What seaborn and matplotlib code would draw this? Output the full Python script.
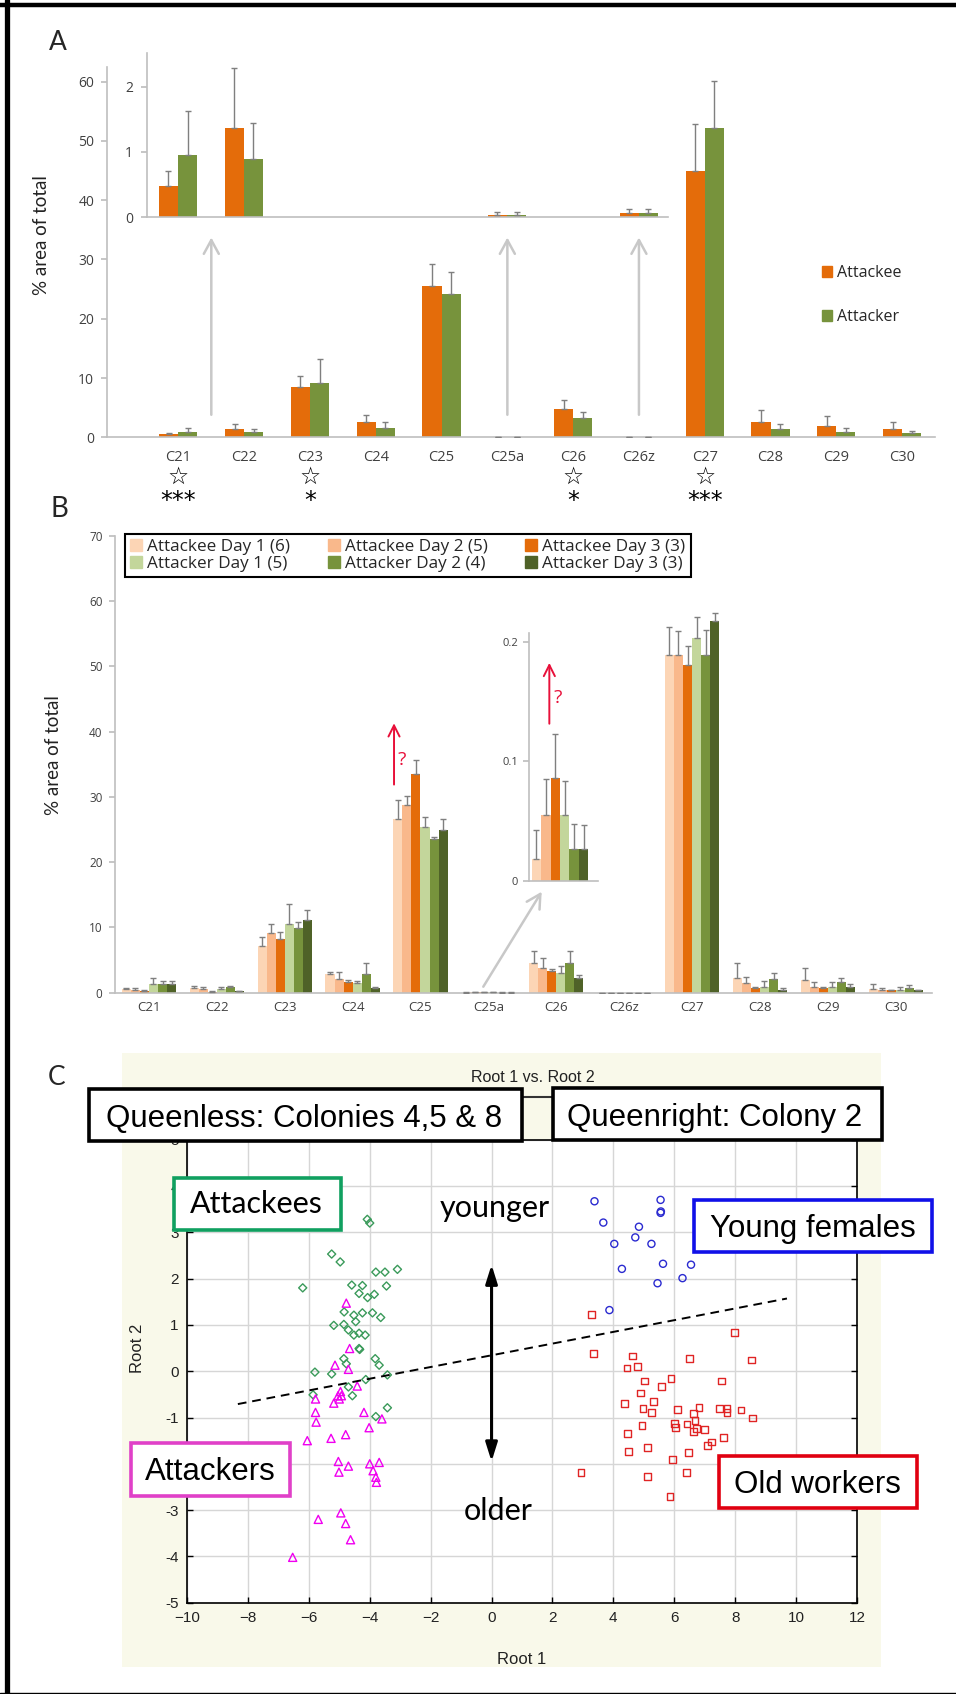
import numpy as np
import pandas as pd
import matplotlib
matplotlib.use("Agg")
import matplotlib.pyplot as plt
import matplotlib.transforms as mtransforms
from matplotlib.patches import Rectangle, Patch
from matplotlib.lines import Line2D
import seaborn as sns

# ---------------------------------------------------------------- data
compounds = ['C21', 'C22', 'C23', 'C24', 'C25', 'C25a', 'C26', 'C26z', 'C27', 'C28', 'C29', 'C30']

# Panel A : mean % area and SE (upper bar only)
attackee_mean = [0.48, 1.36, 8.4, 2.6, 25.6, 0.03, 4.8, 0.07, 44.9, 2.6, 1.95, 1.4]
attackee_se = [0.23, 0.93, 1.9, 1.2, 3.6, 0.05, 1.5, 0.05, 8.0, 2.0, 1.65, 1.2]
attacker_mean = [0.95, 0.89, 9.2, 1.6, 24.1, 0.03, 3.2, 0.07, 52.2, 1.4, 0.95, 0.67]
attacker_se = [0.67, 0.55, 4.0, 1.0, 3.7, 0.05, 1.0, 0.05, 7.9, 0.8, 0.55, 0.39]
inset_a_compounds = ['C21', 'C22', 'C25a', 'C26z']
sig_compounds = ['C21', 'C23', 'C26', 'C27']
sig_labels = ['***', '*', '*', '***']

# Panel B : by day
groups_b = ['Attackee Day 1 (6)', 'Attackee Day 2 (5)', 'Attackee Day 3 (3)',
            'Attacker Day 1 (5)', 'Attacker Day 2 (4)', 'Attacker Day 3 (3)']
ee_d1_mean = [0.5, 0.7, 7.1, 2.9, 26.6, 0.018, 4.6, 0.01, 51.8, 2.2, 1.95, 0.6]
ee_d1_se = [0.2, 0.3, 1.4, 0.3, 3.0, 0.025, 1.8, 0.0, 4.3, 2.3, 1.85, 0.7]
ee_d2_mean = [0.45, 0.5, 9.1, 2.05, 28.8, 0.055, 3.85, 0.01, 51.8, 1.44, 0.9, 0.45]
ee_d2_se = [0.2, 0.45, 1.4, 1.15, 1.4, 0.03, 1.45, 0.0, 3.7, 1.0, 0.7, 0.25]
ee_d3_mean = [0.25, 0.1, 8.2, 1.7, 33.5, 0.086, 3.33, 0.01, 50.3, 0.77, 0.75, 0.35]
ee_d3_se = [0.1, 0.1, 1.1, 0.25, 2.2, 0.037, 0.3, 0.0, 2.9, 0.15, 0.15, 0.1]
er_d1_mean = [1.3, 0.5, 10.5, 1.5, 25.4, 0.055, 3.07, 0.01, 54.3, 0.92, 0.85, 0.35]
er_d1_se = [0.9, 0.3, 3.1, 0.35, 1.6, 0.029, 0.95, 0.0, 3.3, 0.9, 0.75, 0.55]
er_d2_mean = [1.3, 0.8, 9.9, 2.8, 23.6, 0.027, 4.5, 0.01, 51.8, 2.1, 1.7, 0.7]
er_d2_se = [0.5, 0.3, 1.0, 1.7, 0.3, 0.021, 1.9, 0.0, 3.8, 0.9, 0.5, 0.5]
er_d3_mean = [1.3, 0.25, 11.15, 0.72, 25.0, 0.027, 2.2, 0.01, 56.9, 0.4, 0.85, 0.35]
er_d3_se = [0.5, 0.05, 1.55, 0.1, 1.6, 0.02, 0.5, 0.0, 1.3, 0.37, 0.45, 0.1]
inset_b_compound = 'C25a'

# Panel C : discriminant scores (Root 1, Root 2)
attackees_x = [-4.08, -4.0, -5.25, -4.97, -6.2, -3.8, -3.5, -3.09, -4.59, -4.24, -4.35, -4.07, -3.85, -3.45,
               -4.84, -4.52, -4.24, -3.91, -3.64, -5.18, -4.85, -4.70, -4.46, -4.52, -4.35, -4.15, -4.35,
               -4.33, -4.85, -4.77, -3.82, -3.69, -5.8, -5.25, -4.13, -3.42, -4.70, -4.57, -5.86, -3.42, -3.80]
attackees_y = [3.28, 3.2, 2.53, 2.36, 1.8, 2.14, 2.14, 2.2, 1.86, 1.85, 1.68, 1.59, 1.66, 1.84,
               1.28, 1.21, 1.26, 1.26, 1.16, 0.99, 1.01, 0.89, 1.07, 0.78, 0.82, 0.78, 0.49,
               0.47, 0.27, 0.16, 0.27, 0.13, -0.02, -0.06, -0.18, -0.08, -0.34, -0.53, -0.51, -0.79, -0.98]
attackers_x = [-4.77, -4.66, -5.14, -4.70, -4.41, -4.96, -5.04, -4.93, -5.0, -5.18, -5.78, -5.78, -5.76, -4.19,
               -4.02, -3.6, -6.05, -5.27, -4.79, -5.03, -5.01, -4.70, -4.0, -3.69, -3.89, -3.80, -3.78,
               -5.69, -4.95, -4.79, -4.63, -6.53]
attackers_y = [1.47, 0.49, 0.13, 0.04, -0.32, -0.44, -0.53, -0.53, -0.60, -0.69, -0.6, -0.89, -1.1, -0.89,
               -1.22, -1.03, -1.5, -1.45, -1.37, -1.95, -2.18, -2.05, -2.0, -1.97, -2.15, -2.29, -2.4,
               -3.2, -3.06, -3.29, -3.64, -4.02]
young_x = [3.38, 5.55, 5.55, 5.56, 3.67, 4.84, 4.72, 4.03, 5.25, 4.28, 5.63, 6.55, 6.27, 5.45, 3.87]
young_y = [3.67, 3.70, 3.42, 3.45, 3.21, 3.12, 2.89, 2.75, 2.75, 2.21, 2.32, 2.30, 2.01, 1.90, 1.32]
old_x = [3.27, 7.98, 3.35, 4.64, 6.49, 8.53, 4.45, 4.79, 5.03, 5.89, 5.59, 7.54, 4.89, 4.37, 5.32, 4.97,
         5.25, 6.11, 6.81, 7.48, 7.73, 7.73, 8.19, 8.58, 6.63, 6.68, 6.02, 6.05, 6.42, 6.73, 6.64, 6.99,
         4.94, 4.46, 7.23, 7.10, 7.62, 5.11, 4.49, 6.46, 5.94, 2.94, 6.40, 5.11, 5.86]
old_y = [1.22, 0.84, 0.39, 0.33, 0.28, 0.24, 0.07, 0.10, -0.21, -0.16, -0.33, -0.21, -0.47, -0.70, -0.66, -0.81,
         -0.90, -0.83, -0.79, -0.81, -0.81, -0.90, -0.84, -1.01, -0.92, -1.06, -1.13, -1.21, -1.14, -1.23, -1.31,
         -1.26, -1.18, -1.35, -1.53, -1.60, -1.44, -1.64, -1.73, -1.75, -1.91, -2.18, -2.18, -2.27, -2.70]
boundary_x = [-8.33, 9.70]
boundary_y = [-0.71, 1.57]
age_arrow_y = [-1.95, 2.3]

# ---------------------------------------------------------------- style
sns.set_theme(style="white")
plt.rcParams['font.family'] = ['Open Sans', 'DejaVu Sans']
ARIAL = ['Liberation Sans', 'DejaVu Sans']
CALIBRI = ['Lato', 'DejaVu Sans']

ORANGE = '#e46c0a'
GREEN = '#77933c'
pal_b = dict(zip(groups_b, ['#fcd5b5', '#f9b88b', '#e46c0a', '#c3d69b', '#77933c', '#4f6228']))
AXGRAY = '#bfbfbf'
ERRGRAY = '#7f7f7f'
LBL = '#404040'

W, H = 956, 1694
fig = plt.figure(figsize=(W / 100, H / 100), dpi=100)
fig.patch.set_facecolor('white')


def fx(px):
    return px / W


def fy(py):
    return 1 - py / H


def add_errorbars(ax, containers, levels, lookup, x_to_cat):
    for cont, lvl in zip(containers, levels):
        xs, ys, es = [], [], []
        for bar in cont:
            cx = bar.get_x() + bar.get_width() / 2
            xs.append(cx)
            ys.append(bar.get_height())
            es.append(lookup[lvl][x_to_cat(cx)])
        if xs:
            ax.errorbar(xs, ys, yerr=[np.zeros(len(es)), es], fmt='none', ecolor=ERRGRAY,
                        elinewidth=1.0, capsize=2, capthick=1.0, zorder=3)


# ---------------------------------------------------------------- Panel A
dfA = pd.DataFrame({
    'compound': compounds * 2,
    'group': ['Attackee'] * len(compounds) + ['Attacker'] * len(compounds),
    'value': attackee_mean + attacker_mean,
})
se_A = {'Attackee': dict(zip(compounds, attackee_se)), 'Attacker': dict(zip(compounds, attacker_se))}
pal_A = {'Attackee': ORANGE, 'Attacker': GREEN}

ax_a = fig.add_axes([fx(106.7), fy(437.3), 828.3 / W, (437.3 - 66.7) / H])
sns.barplot(data=dfA, x='compound', y='value', hue='group', order=compounds,
            hue_order=['Attackee', 'Attacker'], palette=pal_A, width=0.58, errorbar=None,
            legend=False, saturation=1, ax=ax_a, linewidth=0)
conts = list(ax_a.containers)
add_errorbars(ax_a, conts, ['Attackee', 'Attacker'], se_A, lambda c: compounds[int(round(c))])
ax_a.set_xlim(-1.09, 11.5)
ax_a.set_ylim(0, 62.5)
ax_a.set_yticks(range(0, 61, 10))
ax_a.set_xlabel('')
ax_a.set_ylabel('% area of total', fontsize=13.5, family=CALIBRI, color='#222222')
ax_a.yaxis.set_label_coords(-0.0685, 0.546)
ax_a.set_xticks(np.arange(0.5, 12, 1), minor=True)
ax_a.tick_params(axis='x', which='major', length=0, labelsize=10.5, labelcolor=LBL, pad=9)
ax_a.tick_params(axis='x', which='minor', length=5, color=AXGRAY, width=1, direction='out')
ax_a.tick_params(axis='y', length=4, color=AXGRAY, labelsize=10, labelcolor=LBL, direction='out', left=True, pad=5)
for s in ['top', 'right']:
    ax_a.spines[s].set_visible(False)
for s in ['left', 'bottom']:
    ax_a.spines[s].set_color(AXGRAY)
    ax_a.spines[s].set_linewidth(1.2)
ax_a.set_facecolor('none')

# significance marks
trans_a = mtransforms.blended_transform_factory(ax_a.transData, fig.transFigure)
for c, lab in zip(sig_compounds, sig_labels):
    i = compounds.index(c)
    ax_a.text(i, fy(477), '\u2606', transform=trans_a, ha='center', va='center',
              fontsize=17, family='DejaVu Sans', color='black')
    ax_a.text(i, fy(508), lab, transform=trans_a, ha='center', va='baseline',
              fontsize=17, family='DejaVu Sans', color='black')

# grey arrows to inset
for xa in [0.5, compounds.index('C25a'), compounds.index('C26z')]:
    ax_a.annotate('', xy=(xa, 33.7), xytext=(xa, 3.8),
                  arrowprops=dict(arrowstyle='->,head_length=0.55,head_width=0.3', color='#c8c8c8',
                                  lw=1.8, mutation_scale=18, shrinkA=0, shrinkB=0),
                  annotation_clip=False)

ax_a.legend([Patch(color=ORANGE), Patch(color=GREEN)], ['Attackee', 'Attacker'],
            loc='upper left', bbox_to_anchor=(fx(822), fy(265)), bbox_transform=fig.transFigure,
            frameon=False, fontsize=11.5, handlelength=0.65, handleheight=0.65, handletextpad=0.3,
            labelspacing=1.75, borderpad=0, borderaxespad=0)

# inset A
ax_ai = fig.add_axes([fx(146.7), fy(217.3), 521.3 / W, 164 / H])
dfA_in = dfA[dfA['compound'].isin(inset_a_compounds)]
sns.barplot(data=dfA_in, x='compound', y='value', hue='group', order=compounds,
            hue_order=['Attackee', 'Attacker'], palette=pal_A, width=0.58, errorbar=None,
            legend=False, saturation=1, ax=ax_ai, linewidth=0)
conts = list(ax_ai.containers)
add_errorbars(ax_ai, conts, ['Attackee', 'Attacker'], se_A, lambda c: compounds[int(round(c))])
ax_ai.set_xlim(-0.476, 7.447)
ax_ai.set_ylim(0, 2.51)
ax_ai.set_yticks([0, 1, 2])
ax_ai.set_xticks([0.5])
ax_ai.set_xticklabels([])
ax_ai.set_xlabel('')
ax_ai.set_ylabel('')
ax_ai.tick_params(axis='x', length=4, color=AXGRAY, direction='out')
ax_ai.tick_params(axis='y', length=4, color=AXGRAY, labelsize=10, labelcolor=LBL, direction='out', left=True, pad=6)
for s in ['top', 'right']:
    ax_ai.spines[s].set_visible(False)
for s in ['left', 'bottom']:
    ax_ai.spines[s].set_color(AXGRAY)
    ax_ai.spines[s].set_linewidth(1.2)
ax_ai.set_facecolor('none')

# ---------------------------------------------------------------- Panel B
means_b = [ee_d1_mean, ee_d2_mean, ee_d3_mean, er_d1_mean, er_d2_mean, er_d3_mean]
ses_b = [ee_d1_se, ee_d2_se, ee_d3_se, er_d1_se, er_d2_se, er_d3_se]
dfB = pd.DataFrame({
    'compound': compounds * len(groups_b),
    'group': [g for g in groups_b for _ in compounds],
    'value': [v for m in means_b for v in m],
})
se_B = {g: dict(zip(compounds, s)) for g, s in zip(groups_b, ses_b)}

ax_b = fig.add_axes([fx(115), fy(992.7), 816.7 / W, 456.7 / H])
sns.barplot(data=dfB, x='compound', y='value', hue='group', order=compounds, hue_order=groups_b,
            palette=pal_b, width=0.8, errorbar=None, legend=False, saturation=1, ax=ax_b, linewidth=0)
conts = list(ax_b.containers)
add_errorbars(ax_b, conts, groups_b, se_B, lambda c: compounds[int(round(c))])
ax_b.set_xlim(-0.5, 11.53)
ax_b.set_ylim(0, 70)
ax_b.set_yticks(range(0, 71, 10))
ax_b.set_xlabel('')
ax_b.set_ylabel('% area of total', fontsize=13.5, family=CALIBRI, color='#222222')
ax_b.yaxis.set_label_coords(-0.065, 0.52)
ax_b.set_xticks(np.arange(0.5, 11.6, 1), minor=True)
ax_b.tick_params(axis='x', which='major', length=0, labelsize=9.5, labelcolor=LBL, pad=6)
ax_b.tick_params(axis='x', which='minor', length=4, color=AXGRAY, width=1, direction='out')
ax_b.tick_params(axis='y', length=4, color=AXGRAY, labelsize=8.5, labelcolor=LBL, direction='out', left=True, pad=5)
for s in ['top', 'right']:
    ax_b.spines[s].set_visible(False)
for s in ['left', 'bottom']:
    ax_b.spines[s].set_color(AXGRAY)
    ax_b.spines[s].set_linewidth(1.2)
ax_b.set_facecolor('none')

# red arrow and question mark
RED_Q = '#e8103a'
ax_b.annotate('', xy=(3.61, 41.3), xytext=(3.61, 31.9),
              arrowprops=dict(arrowstyle='->,head_length=0.5,head_width=0.25', color=RED_Q, lw=1.4,
                              mutation_scale=16, shrinkA=0, shrinkB=0))
ax_b.text(3.72, 35.6, '?', color=RED_Q, fontsize=14, ha='center', va='center')

# legend B
order_leg = [0, 3, 1, 4, 2, 5]
leg_b = ax_b.legend([Patch(color=pal_b[groups_b[i]]) for i in order_leg],
                    [groups_b[i] for i in order_leg],
                    loc='upper left', bbox_to_anchor=(fx(125), fy(534)), bbox_transform=fig.transFigure,
                    ncol=3, fontsize=12.3, frameon=True, fancybox=False, edgecolor='black', framealpha=1,
                    borderpad=0.3, handlelength=0.7, handleheight=0.7, handletextpad=0.3,
                    columnspacing=2.2, labelspacing=0.05, borderaxespad=0)
leg_b.get_frame().set_linewidth(1.5)

# grey arrow from C25a to inset
ax_b.annotate('', xy=(fx(541.7), fy(891.7)), xytext=(fx(483.3), fy(986.7)),
              xycoords='figure fraction', textcoords='figure fraction',
              arrowprops=dict(arrowstyle='->,head_length=0.55,head_width=0.3', color='#c8c8c8', lw=1.8,
                              mutation_scale=18, shrinkA=0, shrinkB=0))

# inset B
ax_bi = fig.add_axes([fx(529.3), fy(881), 68.7 / W, 248 / H])
dfB_in = dfB[dfB['compound'] == inset_b_compound]
sns.barplot(data=dfB_in, x='group', y='value', hue='group', order=groups_b, hue_order=groups_b,
            palette=pal_b, width=1.0, errorbar=None, legend=False, saturation=1, ax=ax_bi, linewidth=0)
conts = list(ax_bi.containers)
se_B_in = {g: {0: se_B[g][inset_b_compound]} for g in groups_b}
add_errorbars(ax_bi, conts, groups_b, se_B_in, lambda c: 0)
ax_bi.set_xlim(-0.755, 6.53)
ax_bi.set_ylim(0, 0.2075)
ax_bi.set_yticks([0, 0.1, 0.2])
ax_bi.set_yticklabels(['0', '0.1', '0.2'])
ax_bi.set_xticks([])
ax_bi.set_xlabel('')
ax_bi.set_ylabel('')
ax_bi.tick_params(axis='y', length=4, color=AXGRAY, labelsize=8, labelcolor=LBL, direction='out', left=True, pad=4)
for s in ['top', 'right']:
    ax_bi.spines[s].set_visible(False)
for s in ['left', 'bottom']:
    ax_bi.spines[s].set_color(AXGRAY)
    ax_bi.spines[s].set_linewidth(1.2)
ax_bi.set_facecolor('none')
ax_bi.annotate('', xy=(1.37, 0.1825), xytext=(1.37, 0.1316),
               arrowprops=dict(arrowstyle='->,head_length=0.5,head_width=0.25', color=RED_Q, lw=1.4,
                               mutation_scale=16, shrinkA=0, shrinkB=0), annotation_clip=False)
ax_bi.text(2.26, 0.153, '?', color=RED_Q, fontsize=14, ha='center', va='center')

# ---------------------------------------------------------------- Panel C
fig.add_artist(Rectangle((fx(122), fy(1667)), (881 - 122) / W, (1667 - 1053) / H,
                         transform=fig.transFigure, facecolor='#f9f9ea', edgecolor='none', zorder=-1))

ax_c = fig.add_axes([fx(187), fy(1602.7), 670 / W, 463 / H])
ax_c.set_facecolor('white')
groups_c = [('Attackees', attackees_x, attackees_y, 'D', 17, '#3a9a5a'),
            ('Attackers', attackers_x, attackers_y, '^', 34, '#f000f0'),
            ('Young females', young_x, young_y, 'o', 26, '#2a2ad0'),
            ('Old workers', old_x, old_y, 's', 24, '#e02424')]
for name, xs, ys, mk, sz, col in groups_c:
    dfc = pd.DataFrame({'Root 1': xs, 'Root 2': ys})
    n0 = len(ax_c.collections)
    sns.scatterplot(data=dfc, x='Root 1', y='Root 2', marker=mk, s=sz, color=col, ax=ax_c,
                    legend=False, zorder=3)
    for coll in ax_c.collections[n0:]:
        coll.set_facecolor('none')
        coll.set_edgecolor(col)
        coll.set_linewidth(1.0)

ax_c.plot(boundary_x, boundary_y, color='black', lw=1.4, ls=(0, (4.5, 3)), zorder=4)
ax_c.annotate('', xy=(0, age_arrow_y[1]), xytext=(0, age_arrow_y[0]),
              arrowprops=dict(arrowstyle='<|-|>,head_length=0.7,head_width=0.22', color='black', lw=2.2,
                              mutation_scale=16, shrinkA=0, shrinkB=0), zorder=4)
ax_c.set_xlim(-10, 12)
ax_c.set_ylim(-5, 5)
ax_c.set_xticks(range(-10, 13, 2))
yt = list(range(-5, 6, 1))
ax_c.set_yticks(yt)
# the "-2" label is hidden under the "Attackers" box in the original
ax_c.set_yticklabels(['' if v == -2 else str(v) for v in yt])
ax_c.grid(True, color='#d6d6d6', lw=1.0, zorder=0)
ax_c.set_axisbelow(True)
ax_c.tick_params(axis='both', direction='in', length=4, width=1, color='black', right=True, bottom=True,
                 left=True, labelsize=11, pad=6)
for lab in ax_c.get_xticklabels() + ax_c.get_yticklabels():
    lab.set_family(ARIAL)
    lab.set_color('#222222')
for s in ax_c.spines.values():
    s.set_color('black')
    s.set_linewidth(1.2)
ax_c.set_xlabel('Root 1', fontsize=12, family=ARIAL, color='#222222')
ax_c.set_ylabel('Root 2', fontsize=12, family=ARIAL, color='#222222')
ax_c.xaxis.set_label_coords(0.5, -0.106)
ax_c.yaxis.set_label_coords(-0.063, 0.55)

fig.text(fx(533), fy(1081.7), 'Root 1 vs. Root 2', ha='center', va='baseline', fontsize=11.5,
         family=ARIAL, color='#222222')
fig.add_artist(Line2D([fx(521), fx(554)], [fy(1096.7), fy(1096.7)], color='#333333', lw=1.5,
                      transform=fig.transFigure, zorder=4))


def label_box(x0, x1, y0, y1, edge, lw, text, tx, ty, family, size):
    fig.add_artist(Rectangle((fx(x0), fy(y1)), (x1 - x0) / W, (y1 - y0) / H, transform=fig.transFigure,
                             facecolor='white', edgecolor=edge, linewidth=lw, zorder=5))
    fig.text(fx(tx), fy(ty), text, ha='center', va='baseline', fontsize=size, family=family,
             color='black', zorder=6)


label_box(88.6, 521.7, 1089.3, 1140.7, 'black', 2.6, 'Queenless: Colonies 4,5 & 8', 304, 1126.7, ARIAL, 22.5)
label_box(553.3, 881.7, 1088.3, 1140, 'black', 2.6, 'Queenright: Colony 2', 715, 1126, ARIAL, 22.5)
label_box(174.3, 341, 1177.7, 1230, '#10a060', 2.6, 'Attackees', 256.7, 1213.3, CALIBRI, 22)
label_box(694, 931.7, 1200, 1251.7, '#1010e8', 2.6, 'Young females', 812.5, 1236.7, ARIAL, 22.5)
label_box(130.5, 289.8, 1443.3, 1496, '#e040c8', 2.6, 'Attackers', 210.5, 1480, ARIAL, 22.5)
label_box(718.8, 917.3, 1456, 1508.3, '#e00010', 2.6, 'Old workers', 817, 1493.3, ARIAL, 22.5)
fig.text(fx(495), fy(1216.7), 'younger', ha='center', va='baseline', fontsize=22, family=CALIBRI, color='black')
fig.text(fx(498), fy(1520), 'older', ha='center', va='baseline', fontsize=22, family=CALIBRI, color='black')

# ---------------------------------------------------------------- panel letters and frame
fig.text(fx(57.5), fy(50), 'A', fontsize=19, family=CALIBRI, ha='center', va='baseline')
fig.text(fx(59), fy(516.7), 'B', fontsize=20, family=CALIBRI, ha='center', va='baseline')
fig.text(fx(56.5), fy(1085), 'C', fontsize=19, family=CALIBRI, ha='center', va='baseline')

fig.add_artist(Line2D([fx(7), fx(7)], [0, 1], color='black', lw=3.8, transform=fig.transFigure, zorder=10))
fig.add_artist(Line2D([0, 1], [fy(5), fy(5)], color='black', lw=3.2, transform=fig.transFigure, zorder=10))
fig.add_artist(Line2D([0, 1], [fy(1692.5), fy(1692.5)], color='black', lw=1.0, transform=fig.transFigure, zorder=10))

fig.savefig('out.png', dpi=100)
